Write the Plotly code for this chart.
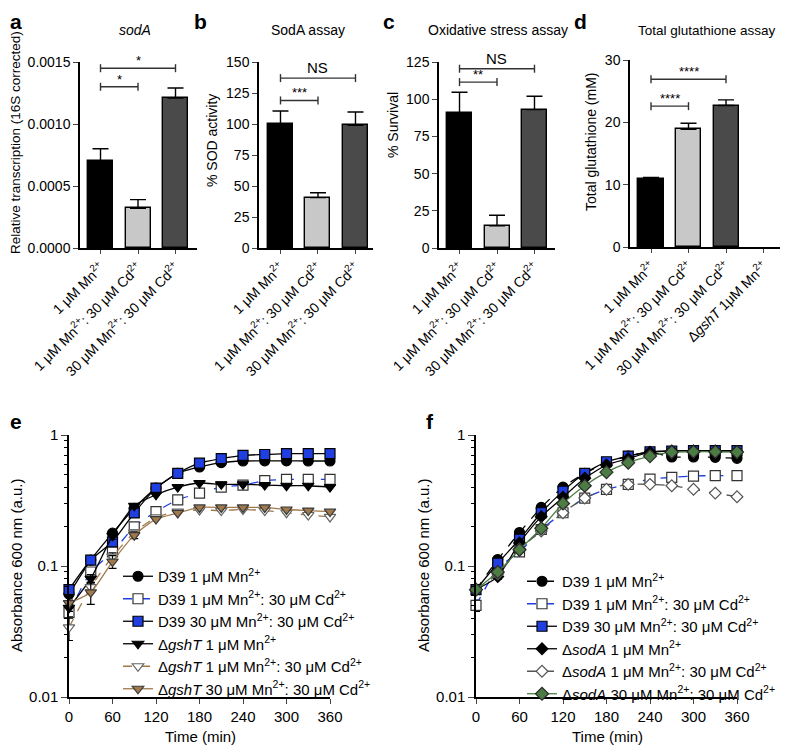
import plotly.graph_objects as go

W, H = 788, 745
OFF = 8  # page body margin of the browser
FONT = "Liberation Sans, Arial, sans-serif"


def fx(p):
    return (p - OFF) / W


def fy(p):
    return 1 - (p - OFF) / H


# ---------------- data: bar panels ----------------
cats3 = ["1 μM Mn<sup>2+</sup>",
         "1 μM Mn<sup>2+</sup>: 30 μM Cd<sup>2+</sup>",
         "30 μM Mn<sup>2+</sup>: 30 μM Cd<sup>2+</sup>"]
cats4 = cats3 + ["Δ<i>gshT</i> 1μM Mn<sup>2+</sup>"]

soda_tx = [0.00070, 0.00032, 0.00121]
soda_tx_err = [0.00010, 0.00007, 0.00008]
sod_act = [100.0, 40.6, 98.9]
sod_act_err = [10.5, 4.0, 10.8]
survival = [90.7, 15.0, 93.0]
survival_err = [14.0, 7.0, 9.0]
glut = [10.9, 18.9, 22.7, None]
glut_err = [0.25, 0.95, 0.9, 0]

bar_colors = ["#000000", "#c8c8c8", "#4a4a4a"]

# significance brackets: (from, to, height, label)
sig_a = [(0, 1, 0.00130, "*"), (0, 2, 0.00145, "*")]
sig_b = [(0, 1, 119, "***"), (0, 2, 137, "NS")]
sig_c = [(0, 1, 111.5, "**"), (0, 2, 120.5, "NS")]
sig_d = [(0, 1, 22.6, "****"), (0, 2, 26.9, "****")]

# ---------------- data: growth curves ----------------
time_min = [0, 30, 60, 90, 120, 150, 180, 210, 240, 270, 300, 330, 360]

e_names = ["D39 1 μM Mn<sup>2+</sup>",
           "D39 1 μM Mn<sup>2+</sup>: 30 μM Cd<sup>2+</sup>",
           "D39 30 μM Mn<sup>2+</sup>: 30 μM Cd<sup>2+</sup>",
           "Δ<i>gshT</i> 1 μM Mn<sup>2+</sup>",
           "Δ<i>gshT</i> 1 μM Mn<sup>2+</sup>: 30 μM Cd<sup>2+</sup>",
           "Δ<i>gshT</i> 30 μM Mn<sup>2+</sup>: 30 μM Cd<sup>2+</sup>"]
e_d39_mn1 = [0.061, 0.111, 0.178, 0.276, 0.393, 0.51, 0.57, 0.615, 0.633, 0.635, 0.635, 0.633, 0.633]
e_d39_mn1_cd = [0.044, 0.090, 0.128, 0.199, 0.26, 0.32, 0.36, 0.40, 0.415, 0.448, 0.458, 0.458, 0.458]
e_d39_mn30_cd = [0.066, 0.111, 0.153, 0.254, 0.393, 0.51, 0.61, 0.66, 0.70, 0.71, 0.72, 0.72, 0.72]
e_gsht_mn1 = [0.048, 0.080, 0.170, 0.288, 0.35, 0.40, 0.43, 0.42, 0.42, 0.415, 0.41, 0.41, 0.40]
e_gsht_mn1_cd = [0.034, 0.069, 0.118, 0.18, 0.235, 0.26, 0.268, 0.265, 0.27, 0.265, 0.255, 0.245, 0.237]
e_gsht_mn30_cd = [0.052, 0.063, 0.108, 0.172, 0.228, 0.254, 0.28, 0.28, 0.28, 0.28, 0.27, 0.265, 0.26]
e_err = [
    [0.003, 0.005, 0.008, 0.01, 0, 0, 0, 0, 0, 0, 0, 0, 0],
    [0.004, 0.004, 0.005, 0.006, 0, 0, 0, 0, 0, 0, 0, 0, 0],
    [0.003, 0.005, 0.006, 0.01, 0, 0, 0, 0, 0, 0, 0, 0, 0],
    [0.003, 0.006, 0.01, 0.012, 0, 0, 0, 0, 0, 0, 0, 0, 0],
    [0.007, 0.006, 0.008, 0.008, 0, 0, 0, 0, 0, 0, 0, 0, 0],
    [0.004, 0.012, 0.012, 0.01, 0, 0, 0, 0, 0, 0, 0, 0, 0],
]

f_names = ["D39 1 μM Mn<sup>2+</sup>",
           "D39 1 μM Mn<sup>2+</sup>: 30 μM Cd<sup>2+</sup>",
           "D39 30 μM Mn<sup>2+</sup>: 30 μM Cd<sup>2+</sup>",
           "Δ<i>sodA</i> 1 μM Mn<sup>2+</sup>",
           "Δ<i>sodA</i> 1 μM Mn<sup>2+</sup>: 30 μM Cd<sup>2+</sup>",
           "Δ<i>sodA</i> 30 μM Mn<sup>2+</sup>: 30 μM Cd<sup>2+</sup>"]
f_d39_mn1 = [0.066, 0.112, 0.18, 0.28, 0.40, 0.51, 0.615, 0.69, 0.74, 0.68, 0.68, 0.675, 0.664]
f_d39_mn1_cd = [0.050, 0.096, 0.128, 0.19, 0.255, 0.33, 0.385, 0.42, 0.46, 0.475, 0.486, 0.49, 0.49]
f_d39_mn30_cd = [0.066, 0.105, 0.16, 0.255, 0.373, 0.51, 0.625, 0.69, 0.745, 0.755, 0.76, 0.76, 0.76]
f_soda_mn1 = [0.066, 0.083, 0.15, 0.238, 0.335, 0.467, 0.59, 0.66, 0.74, 0.755, 0.755, 0.755, 0.75]
f_soda_mn1_cd = [0.066, 0.087, 0.135, 0.185, 0.255, 0.33, 0.385, 0.42, 0.42, 0.41, 0.385, 0.36, 0.338]
f_soda_mn30_cd = [0.066, 0.090, 0.133, 0.194, 0.30, 0.41, 0.52, 0.615, 0.69, 0.74, 0.745, 0.745, 0.74]
f_err = [
    [0.003, 0.004, 0.006, 0, 0, 0, 0, 0, 0, 0, 0, 0, 0],
    [0.005, 0.004, 0.005, 0, 0, 0, 0, 0, 0, 0, 0, 0, 0],
    [0.003, 0.004, 0.006, 0, 0, 0, 0, 0, 0, 0, 0, 0, 0],
    [0.003, 0.004, 0.006, 0, 0, 0, 0, 0, 0, 0, 0, 0, 0],
    [0.003, 0.004, 0.006, 0, 0, 0, 0, 0, 0, 0, 0, 0, 0],
    [0.003, 0.004, 0.006, 0, 0, 0, 0, 0, 0, 0, 0, 0, 0],
]

BLUE = "#1f3fe0"
TAN = "#a07a4c"
GREEN = "#4c7c44"

fig = go.Figure()

# ---------------- bar panels ----------------
bar_panels = [
    dict(ax="", cats=cats3, vals=soda_tx, err=soda_tx_err, sig=sig_a,
         dom_x=(80, 197), dom_y=(62, 248), xr=[-0.547, 2.573], yr=[0, 0.0015],
         dtick=0.0005, fmt=".4f"),
    dict(ax="2", cats=cats3, vals=sod_act, err=sod_act_err, sig=sig_b,
         dom_x=(259, 373), dom_y=(62, 248), xr=[-0.573, 2.467], yr=[0, 150],
         dtick=25, fmt=""),
    dict(ax="3", cats=cats3, vals=survival, err=survival_err, sig=sig_c,
         dom_x=(439, 555), dom_y=(62, 248), xr=[-0.547, 2.547], yr=[0, 125],
         dtick=25, fmt=""),
    dict(ax="4", cats=cats4, vals=glut, err=glut_err, sig=sig_d,
         dom_x=(630, 782), dom_y=(60, 247), xr=[-0.56, 3.493], yr=[0, 30],
         dtick=10, fmt=""),
]

shapes = []
annotations = []
for p in bar_panels:
    n = len(p["cats"])
    xs = list(range(n))
    cols = [bar_colors[i] if i < 3 else "#ffffff" for i in xs]
    fig.add_trace(go.Bar(
        x=xs, y=p["vals"], width=0.667,
        marker=dict(color=cols, line=dict(color="#000000", width=1.4)),
        error_y=dict(type="data", array=p["err"], arrayminus=[0] * n,
                     symmetric=False, color="#000000", thickness=1.4, width=8),
        xaxis="x" + p["ax"], yaxis="y" + p["ax"], showlegend=False,
    ))
    xa = "xaxis" + p["ax"]
    ya = "yaxis" + p["ax"]
    fig.update_layout(**{
        xa: dict(domain=[fx(p["dom_x"][0]), fx(p["dom_x"][1])], range=p["xr"],
                 anchor="y" + p["ax"], tickmode="array", tickvals=xs,
                 ticktext=p["cats"], tickangle=-45, ticks="outside", ticklen=4,
                 tickwidth=1.3, showline=True, linecolor="#000000", linewidth=1.5,
                 showgrid=False, zeroline=False, fixedrange=True, automargin=False,
                 tickfont=dict(size=14, color="#000000", family=FONT)),
        ya: dict(domain=[fy(p["dom_y"][1]), fy(p["dom_y"][0])], range=p["yr"],
                 anchor="x" + p["ax"], dtick=p["dtick"], tickformat=p["fmt"],
                 ticks="outside", ticklen=5, tickwidth=1.3, showline=True,
                 linecolor="#000000", linewidth=1.5, showgrid=False, automargin=False,
                 zeroline=False, tickfont=dict(size=14, color="#000000", family=FONT)),
    })
    for (i, j, h, lab) in p["sig"]:
        xr_ = "x" + p["ax"]
        yr_ = "y" + p["ax"]
        shapes.append(dict(type="line", xref=xr_, yref=yr_, x0=i, x1=j, y0=h, y1=h,
                           line=dict(color="#333333", width=1.4)))
        for xe in (i, j):
            shapes.append(dict(type="line", xref=xr_, yref=yr_, ysizemode="pixel",
                               yanchor=h, x0=xe, x1=xe, y0=-4, y1=4,
                               line=dict(color="#333333", width=1.4)))
        big = lab == "NS"
        annotations.append(dict(x=(i + j) / 2, y=h, xref=xr_, yref=yr_,
                                text=lab, showarrow=False, yanchor="bottom",
                                yshift=0 if big else -2,
                                font=dict(size=15 if big else 13, color="#000000",
                                          family=FONT)))

# ---------------- growth panels ----------------
e_series = [e_d39_mn1, e_d39_mn1_cd, e_d39_mn30_cd, e_gsht_mn1, e_gsht_mn1_cd, e_gsht_mn30_cd]
e_styles = [
    dict(sym="circle", size=10, fill="#000000", edge="#000000", lc="#000000", dash="solid"),
    dict(sym="square", size=10, fill="#ffffff", edge="#333333", lc=BLUE, dash="dash"),
    dict(sym="square", size=10, fill=BLUE, edge="#000000", lc="#000000", dash="solid"),
    dict(sym="triangle-down", size=10, fill="#000000", edge="#000000", lc="#000000", dash="solid"),
    dict(sym="triangle-down", size=10, fill="#ffffff", edge="#666666", lc=TAN, dash="dash"),
    dict(sym="triangle-down", size=10, fill=TAN, edge="#3a3a3a", lc=TAN, dash="solid"),
]
f_series = [f_d39_mn1, f_d39_mn1_cd, f_d39_mn30_cd, f_soda_mn1, f_soda_mn1_cd, f_soda_mn30_cd]
f_styles = [
    dict(sym="circle", size=10, fill="#000000", edge="#000000", lc="#000000", dash="dash"),
    dict(sym="square", size=10, fill="#ffffff", edge="#333333", lc=BLUE, dash="dash"),
    dict(sym="square", size=10, fill=BLUE, edge="#000000", lc="#000000", dash="solid"),
    dict(sym="diamond", size=9, fill="#000000", edge="#000000", lc="#000000", dash="solid"),
    dict(sym="diamond", size=9, fill="#ffffff", edge="#555555", lc="#555555", dash="dash"),
    dict(sym="diamond", size=10, fill=GREEN, edge="#2a2a2a", lc=GREEN, dash="solid"),
]

for ax, series, styles, names, errs, leg in [
        ("5", e_series, e_styles, e_names, e_err, "legend"),
        ("6", f_series, f_styles, f_names, f_err, "legend2")]:
    for ys, st, nm, er in zip(series, styles, names, errs):
        fig.add_trace(go.Scatter(
            x=time_min, y=ys, name=nm, mode="lines+markers",
            line=dict(color=st["lc"], width=1.3, dash=st["dash"], shape="spline",
                      smoothing=0.6),
            marker=dict(symbol=st["sym"], size=st["size"], color=st["fill"],
                        line=dict(color=st["edge"], width=1.2)),
            error_y=dict(type="data", array=er, color="#000000", thickness=1.2, width=4),
            xaxis="x" + ax, yaxis="y" + ax, legend=leg, cliponaxis=False,
        ))

growth_common_x = dict(range=[0, 360], tickmode="array",
                       tickvals=[0, 60, 120, 180, 240, 300, 360], ticks="outside",
                       ticklen=5, tickwidth=1.3, showline=True, linecolor="#000000",
                       linewidth=1.5, showgrid=False, zeroline=False, automargin=False,
                       tickfont=dict(size=15, color="#000000", family=FONT))
growth_common_y = dict(type="log", range=[-2, 0], tickmode="array",
                       tickvals=[0.01, 0.1, 1], ticktext=["0.01", "0.1", "1"],
                       ticks="outside", ticklen=6, tickwidth=1.3, showline=True,
                       linecolor="#000000", linewidth=1.5, showgrid=False, automargin=False,
                       zeroline=False, tickfont=dict(size=15, color="#000000", family=FONT),
                       minor=dict(ticks="outside", ticklen=3, tickwidth=1,
                                  tickcolor="#000000", dtick="D1", showgrid=False))

fig.update_layout(
    xaxis5=dict(domain=[fx(69), fx(330)], anchor="y5", **growth_common_x),
    yaxis5=dict(domain=[fy(697), fy(435)], anchor="x5", **growth_common_y),
    xaxis6=dict(domain=[fx(476), fx(737)], anchor="y6", **growth_common_x),
    yaxis6=dict(domain=[fy(697), fy(435)], anchor="x6", **growth_common_y),
)

# ---------------- text annotations ----------------
def txt(x, y, s, size=14, angle=0, bold=False, italic=False, anchor="center",
        vanchor="middle"):
    if bold:
        s = "<b>" + s + "</b>"
    if italic:
        s = "<i>" + s + "</i>"
    annotations.append(dict(x=fx(x), y=fy(y), xref="paper", yref="paper", text=s,
                            showarrow=False, textangle=angle, xanchor=anchor,
                            yanchor=vanchor,
                            font=dict(size=size, color="#000000", family=FONT)))

# panel letters
txt(8, 8, "a", 21, bold=True, anchor="left", vanchor="top")
txt(192, 8, "b", 21, bold=True, anchor="left", vanchor="top")
txt(381, 8, "c", 21, bold=True, anchor="left", vanchor="top")
txt(572, 8, "d", 21, bold=True, anchor="left", vanchor="top")
txt(8, 408, "e", 21, bold=True, anchor="left", vanchor="top")
txt(424, 408, "f", 21, bold=True, anchor="left", vanchor="top")
# titles
txt(135, 30, "sodA", 14, italic=True)
txt(308, 30, "SodA assay", 14)
txt(498, 30, "Oxidative stress assay", 14)
txt(707, 30, "Total glutathione assay", 13.5)
# y titles
txt(16, 143, "Relative transcription (16S corrected)", 13.5, angle=-90)
txt(212, 141, "% SOD activity", 14, angle=-90)
txt(393, 125, "% Survival", 14, angle=-90)
txt(591, 142, "Total glutathione (mM)", 14, angle=-90)
txt(16, 566, "Absorbance 600 nm (a.u.)", 15, angle=-90)
txt(423, 566, "Absorbance 600 nm (a.u.)", 15, angle=-90)
txt(200, 736, "Time (min)", 15)
txt(607, 736, "Time (min)", 15)

leg_common = dict(xanchor="left", yanchor="top", bgcolor="rgba(0,0,0,0)",
                  font=dict(size=15, color="#000000", family=FONT),
                  itemwidth=30, tracegroupgap=0, borderwidth=0)

fig.update_layout(
    width=W, height=H, margin=dict(l=0, r=0, t=0, b=0, autoexpand=False),
    paper_bgcolor="#ffffff", plot_bgcolor="#ffffff",
    font=dict(family=FONT, color="#000000"),
    bargap=0, shapes=shapes, annotations=annotations,
    legend=dict(x=fx(118), y=fy(560), **leg_common),
    legend2=dict(x=fx(522), y=fy(565), **leg_common),
)

fig.write_html("out.html")
